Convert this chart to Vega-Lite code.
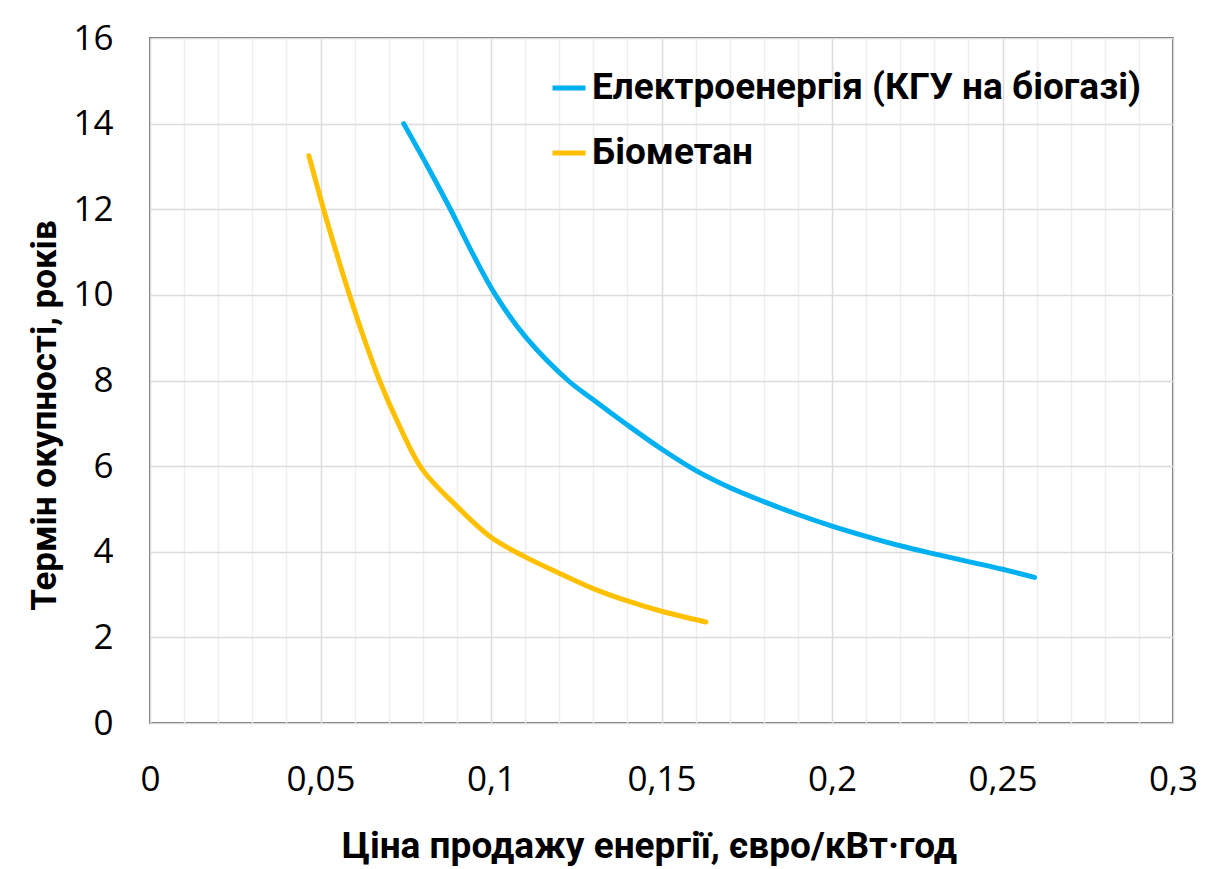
{
  "$schema": "https://vega.github.io/schema/vega-lite/v6.json",
  "width": 1023,
  "height": 685,
  "autosize": {"type": "none"},
  "padding": {"left": 150, "top": 38, "right": 51, "bottom": 146},
  "background": "white",
  "config": {
    "view": {"stroke": "#3a3a3a", "strokeWidth": 1.5},
    "font": "Open Sans"
  },
  "data": {
    "values": [
      {"series": "Електроенергія (КГУ на біогазі)", "price": 0.0744, "years": 14.0},
      {"series": "Електроенергія (КГУ на біогазі)", "price": 0.0814, "years": 13.0},
      {"series": "Електроенергія (КГУ на біогазі)", "price": 0.0881, "years": 12.0},
      {"series": "Електроенергія (КГУ на біогазі)", "price": 0.0944, "years": 11.0},
      {"series": "Електроенергія (КГУ на біогазі)", "price": 0.1013, "years": 10.0},
      {"series": "Електроенергія (КГУ на біогазі)", "price": 0.1103, "years": 9.0},
      {"series": "Електроенергія (КГУ на біогазі)", "price": 0.1226, "years": 8.0},
      {"series": "Електроенергія (КГУ на біогазі)", "price": 0.13, "years": 7.55},
      {"series": "Електроенергія (КГУ на біогазі)", "price": 0.14, "years": 6.96},
      {"series": "Електроенергія (КГУ на біогазі)", "price": 0.15, "years": 6.4},
      {"series": "Електроенергія (КГУ на біогазі)", "price": 0.16, "years": 5.9},
      {"series": "Електроенергія (КГУ на біогазі)", "price": 0.17, "years": 5.5},
      {"series": "Електроенергія (КГУ на біогазі)", "price": 0.18, "years": 5.17},
      {"series": "Електроенергія (КГУ на біогазі)", "price": 0.19, "years": 4.87},
      {"series": "Електроенергія (КГУ на біогазі)", "price": 0.2, "years": 4.6},
      {"series": "Електроенергія (КГУ на біогазі)", "price": 0.21, "years": 4.36},
      {"series": "Електроенергія (КГУ на біогазі)", "price": 0.22, "years": 4.14},
      {"series": "Електроенергія (КГУ на біогазі)", "price": 0.23, "years": 3.95},
      {"series": "Електроенергія (КГУ на біогазі)", "price": 0.24, "years": 3.77},
      {"series": "Електроенергія (КГУ на біогазі)", "price": 0.25, "years": 3.59},
      {"series": "Електроенергія (КГУ на біогазі)", "price": 0.2594, "years": 3.4},
      {"series": "Біометан", "price": 0.0466, "years": 13.25},
      {"series": "Біометан", "price": 0.0509, "years": 12.0},
      {"series": "Біометан", "price": 0.0546, "years": 11.0},
      {"series": "Біометан", "price": 0.0585, "years": 10.0},
      {"series": "Біометан", "price": 0.0627, "years": 9.0},
      {"series": "Біометан", "price": 0.0673, "years": 8.0},
      {"series": "Біометан", "price": 0.0728, "years": 7.0},
      {"series": "Біометан", "price": 0.0798, "years": 5.93},
      {"series": "Біометан", "price": 0.09, "years": 5.06},
      {"series": "Біометан", "price": 0.1, "years": 4.34},
      {"series": "Біометан", "price": 0.11, "years": 3.88},
      {"series": "Біометан", "price": 0.12, "years": 3.5},
      {"series": "Біометан", "price": 0.13, "years": 3.14},
      {"series": "Біометан", "price": 0.14, "years": 2.85},
      {"series": "Біометан", "price": 0.15, "years": 2.61},
      {"series": "Біометан", "price": 0.163, "years": 2.36}
    ]
  },
  "mark": {"type": "line", "interpolate": "catmull-rom", "strokeWidth": 5, "strokeCap": "round", "strokeJoin": "round"},
  "encoding": {
    "x": {
      "field": "price",
      "type": "quantitative",
      "scale": {"domain": [0, 0.3], "nice": false, "zero": false},
      "axis": {
        "title": "Ціна продажу енергії, євро/кВт·год",
        "values": [0, 0.01, 0.02, 0.03, 0.04, 0.05, 0.06, 0.07, 0.08, 0.09, 0.1, 0.11, 0.12, 0.13, 0.14, 0.15, 0.16, 0.17, 0.18, 0.19, 0.2, 0.21, 0.22, 0.23, 0.24, 0.25, 0.26, 0.27, 0.28, 0.29, 0.3],
        "labelExpr": "abs(datum.value*20 - round(datum.value*20)) < 0.001 ? replace(format(datum.value, '~g'), '.', ',') : ''",
        "gridColor": {"condition": {"test": "abs(datum.value*20 - round(datum.value*20)) < 0.001", "value": "#dcdcdc"}, "value": "#efefef"},
        "gridWidth": 1.5,
        "ticks": false,
        "tickSize": 0,
        "domain": false,
        "labelFont": "Open Sans",
        "labelFontSize": 35,
        "labelColor": "#000000",
        "labelPadding": 39,
        "labelFlush": false,
        "labelOverlap": false,
        "titleFont": "Roboto",
        "titleFontSize": 37,
        "titleFontWeight": "bold",
        "titleColor": "#000000",
        "titlePadding": 31,
        "titleX": 499
      }
    },
    "y": {
      "field": "years",
      "type": "quantitative",
      "scale": {"domain": [0, 16], "nice": false},
      "axis": {
        "title": "Термін окупності, років",
        "values": [0, 2, 4, 6, 8, 10, 12, 14, 16],
        "gridColor": "#dcdcdc",
        "gridWidth": 1.5,
        "ticks": false,
        "tickSize": 0,
        "domain": false,
        "labelFont": "Open Sans",
        "labelFontSize": 35,
        "labelColor": "#000000",
        "labelPadding": 37,
        "labelFlush": false,
        "labelOverlap": false,
        "titleFont": "Liberation Sans Narrow, Roboto",
        "titleFontSize": 35,
        "titleFontWeight": "bold",
        "titleColor": "#000000",
        "titlePadding": 10,
        "titleY": 377
      }
    },
    "color": {
      "field": "series",
      "type": "nominal",
      "scale": {"domain": ["Електроенергія (КГУ на біогазі)", "Біометан"], "range": ["#00B0F0", "#FFC000"]},
      "legend": {
        "title": null,
        "orient": "none",
        "legendX": 400,
        "legendY": 31,
        "symbolType": "stroke",
        "symbolSize": 1089,
        "symbolStrokeWidth": 5,
        "labelFont": "Roboto",
        "labelFontSize": 37,
        "labelFontWeight": "bold",
        "labelColor": "#000000",
        "labelOffset": 4,
        "labelLimit": 800,
        "rowPadding": 28
      }
    }
  }
}
